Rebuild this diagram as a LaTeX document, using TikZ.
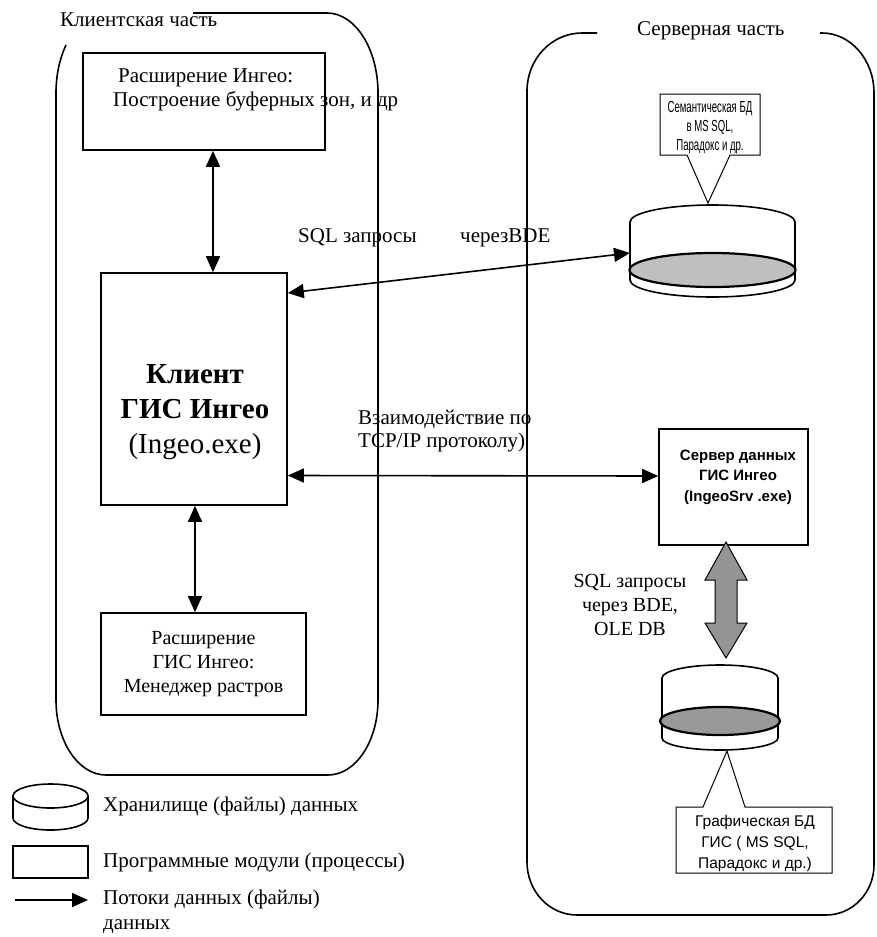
\documentclass[tikz,border=0pt]{standalone}
\usepackage{fontspec}
\setmainfont{Liberation Serif}
\newfontfamily\sansf{Liberation Sans}
\usetikzlibrary{arrows.meta}
\newcommand\fsn{\fontsize{21}{23}\selectfont}
\begin{document}
\begin{tikzpicture}[x=1pt,y=1pt,
  lw/.style={line width=1.6pt},
  boxnode/.style={draw, line width=1.6pt, inner sep=0pt, fill=white},
  lbl/.style={inner sep=0pt, font=\fsn},
  arr/.style={line width=1.6pt, -{Triangle[length=16pt,width=14pt]}},
  darr/.style={line width=1.6pt, {Triangle[length=16pt,width=14pt]}-{Triangle[length=16pt,width=14pt]}},
  callout/.style={draw, line width=1pt, fill=white},
  ctext/.style={inner sep=0pt, align=center, font=\sansf\fontsize{16}{19}\selectfont}
]
\useasboundingbox (0,0) rectangle (876,-937);

% ---------- client region ----------
\draw[lw] (66,-45) arc[start angle=143.13, end angle=180, x radius=50, y radius=80]
  -- (56,-700) arc[start angle=180, end angle=270, x radius=50, y radius=75]
  -- (328,-775) arc[start angle=270, end angle=360, x radius=50, y radius=75]
  -- (378,-93) arc[start angle=0, end angle=90, x radius=51, y radius=80]
  -- (193,-13);
\node[lbl, anchor=west] (clientlbl) at (60,-20) {Клиентская часть};

% ---------- server region ----------
\draw[lw] (597,-33) -- (582,-33) arc[start angle=90, end angle=180, x radius=55, y radius=58]
  -- (527,-862) arc[start angle=180, end angle=270, x radius=50, y radius=53]
  -- (826,-915) arc[start angle=270, end angle=360, x radius=48, y radius=50]
  -- (874,-93) arc[start angle=0, end angle=90, x radius=52, y radius=60]
  -- (820,-33);
\node[lbl, anchor=west] (serverlbl) at (637,-31) {Серверная часть};

% ---------- client boxes ----------
\node[boxnode, minimum width=242pt, minimum height=97pt] (ext1) at (204,-101.5) {};
\node[lbl, anchor=west] (ext1a) at (118,-78) {Расширение Ингео:};
\node[lbl, anchor=west] (ext1b) at (113,-101) {Построение буферных зон, и др};

\node[boxnode, minimum width=186pt, minimum height=232pt] (client) at (194,-389) {};
\node[inner sep=0pt, align=center, font=\fontsize{29}{35}\selectfont] (clienttxt) at (195,-412)
  {\bfseries Клиент\\\bfseries ГИС Ингео\\(Ingeo.exe)};

\node[boxnode, minimum width=205pt, minimum height=102pt, align=center, font=\fontsize{20}{24}\selectfont] (ext2) at (203.5,-664)
  {Расширение\\ГИС Ингео:\\Менеджер растров};

\draw[darr] ([xshift=9pt]ext1.south) -- ([xshift=19pt]client.north);
\draw[darr] ([xshift=1pt]client.south) -- ([xshift=-8.5pt]ext2.north);

% ---------- server box ----------
\node[boxnode, minimum width=149pt, minimum height=116pt] (srv) at (733.5,-487) {};
\node[inner sep=0pt, align=center, font=\sansf\bfseries\fontsize{15}{20.5}\selectfont] (srvtxt) at (738,-477)
  {Сервер данных\\ГИС Ингео\\(IngeoSrv .exe)};

% ---------- semantic DB cylinder ----------
\draw[lw, fill=white] (630,-222) arc[start angle=180, end angle=0, x radius=82.5, y radius=17]
  -- (795,-280) arc[start angle=0, end angle=-180, x radius=82.5, y radius=17] -- cycle;
\draw[line width=2.2pt, fill=black!25] (712.5,-270) ellipse[x radius=83, y radius=17];
\coordinate (semL) at (630,-253);

% callout semantic
\draw[callout] (660,-94) -- (760,-94) -- (760,-155) -- (730,-155) -- (708,-203) -- (687,-155) -- (660,-155) -- cycle;
\node[ctext] (semtxt) at (710,-128) {\scalebox{0.6}[1]{Семантическая БД}\\\scalebox{0.6}[1]{в MS SQL,}\\\scalebox{0.6}[1]{Парадокс и др.}};

% ---------- graphic DB cylinder ----------
\draw[lw, fill=white] (662,-678) arc[start angle=180, end angle=0, x radius=58, y radius=13]
  -- (778,-738) arc[start angle=0, end angle=-180, x radius=58, y radius=12] -- cycle;
\draw[line width=2.2pt, fill=black!40] (720,-721) ellipse[x radius=60, y radius=14];

% callout graphic
\draw[callout] (676,-807) -- (703,-807) -- (727,-751) -- (745,-807) -- (832,-807) -- (832,-873) -- (676,-873) -- cycle;
\node[ctext, font=\sansf\fontsize{15.5}{21}\selectfont] (grtxt) at (755,-843) {Графическая БД\\ГИС ( MS SQL,\\Парадокс и др.)};

% ---------- gray block arrow ----------
\draw[line width=1pt, fill=black!42] (726,-542) -- (747,-580) -- (737,-580) -- (737,-623) -- (747,-623)
  -- (726,-658) -- (705,-623) -- (715,-623) -- (715,-580) -- (705,-580) -- cycle;
\node[inner sep=0pt, align=center, font=\fontsize{20}{24}\selectfont] (sqltxt2) at (630,-605)
  {SQL запросы\\через BDE,\\OLE DB};

% ---------- flows ----------
\draw[darr] ([yshift=96pt]client.east) -- (semL);
\node[lbl, anchor=west] (sqltxt) at (298,-238) {SQL запросы};
\node[lbl, anchor=west] (bdetxt) at (460,-238) {черезBDE};

\draw[darr] ([yshift=-86.5pt]client.east) -- ([yshift=11pt]srv.west);
\node[lbl, anchor=west, align=left] (tcptxt) at (358,-431) {Взаимодействие по\\TCP/IP протоколу)};

% ---------- legend ----------
\draw[lw, fill=white] (13,-796) arc[start angle=180, end angle=0, x radius=37.5, y radius=12]
  -- (88,-818) arc[start angle=0, end angle=-180, x radius=37.5, y radius=12] -- cycle;
\draw[lw] (13,-796) arc[start angle=180, end angle=360, x radius=37.5, y radius=12];
\node[lbl, anchor=west] (lg1) at (103,-806) {Хранилище (файлы) данных};

\node[boxnode, minimum width=75pt, minimum height=32pt] (lgbox) at (50.5,-862) {};
\node[lbl, anchor=west] (lg2) at (103,-862) {Программные модули (процессы)};

\coordinate (la) at (15,-900);
\coordinate (lb) at (88,-900);
\draw[arr] (la) -- (lb);
\node[lbl, anchor=west, align=left, font=\fontsize{21}{25}\selectfont] (lg3) at (103,-912) {Потоки данных (файлы)\\данных};
\end{tikzpicture}
\end{document}
